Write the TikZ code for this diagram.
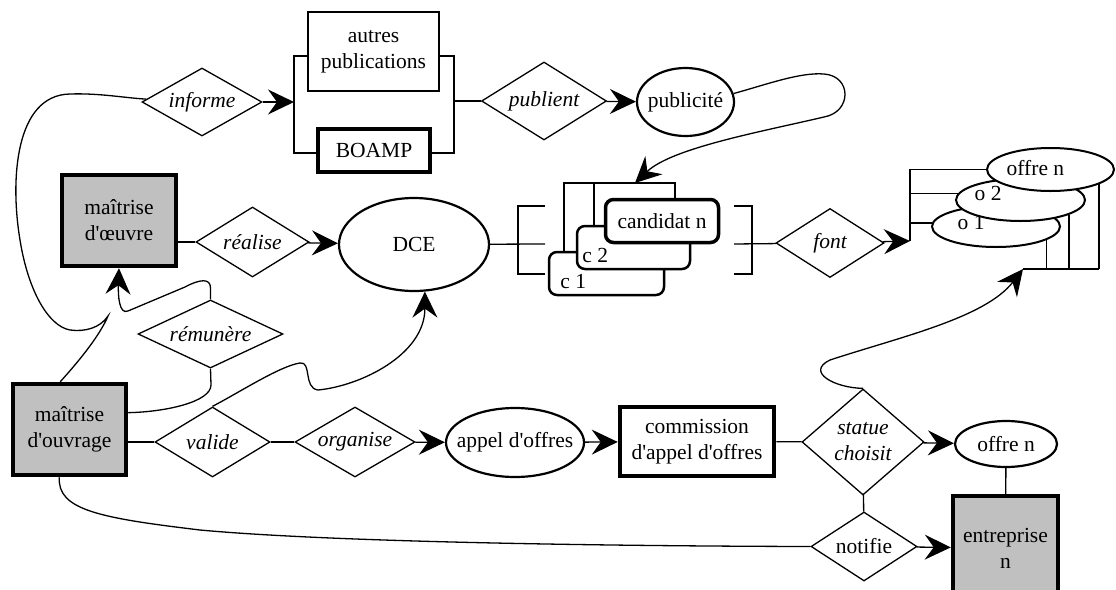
\documentclass[tikz,border=0pt]{standalone}
\usepackage{fontspec}
\setmainfont{Liberation Serif}[Ligatures=TeXOff]
\usetikzlibrary{arrows.meta,shapes.geometric}
\definecolor{boxgray}{RGB}{192,192,192}
\newcommand{\zw}[1]{\makebox[0pt]{#1}}
\tikzset{
  ent/.style={draw, rectangle, inner sep=0pt, align=center},
  rel/.style={draw, diamond, inner sep=0pt, line width=1.3pt, font=\itshape},
  ell/.style={draw, ellipse, inner sep=0pt, line width=2.2pt, fill=white},
  card/.style={draw, rectangle, rounded corners=8pt, fill=white, inner sep=0pt},
  arr/.style={-{Stealth[length=26pt,width=25pt,inset=9pt]}},
  lbl/.style={anchor=base west, inner sep=0pt},
  olbl/.style={anchor=west, inner sep=0pt}
}
\begin{document}
\fontsize{21.5}{26}\selectfont
\begin{tikzpicture}[x=1pt, y=-1pt, line width=1.3pt]
\useasboundingbox (0,0) rectangle (1116,589);

% top row
\node[ent, line width=2.5pt, minimum width=131pt, minimum height=79pt] (autres) at (373.5,51.5) {autres\\publications};
\node[ent, line width=4.5pt, minimum width=112pt, minimum height=43pt] (boamp) at (374,150.5) {BOAMP};
\node[rel, minimum width=120pt, minimum height=68pt] (informe) at (202,102) {\zw{informe}};
\node[rel, minimum width=125pt, minimum height=78pt] (publient) at (544,101) {\zw{publient}};
\node[ell, minimum width=97pt, minimum height=68pt] (publicite) at (685.5,102) {\zw{publicité}};

% middle row
\node[ent, fill=boxgray, line width=4.5pt, minimum width=114pt, minimum height=91pt] (moe) at (119,220.5) {maîtrise\\d'œuvre};
\node[rel, minimum width=113pt, minimum height=70pt] (realise) at (252.5,242) {\zw{réalise}};
\node[ell, minimum width=150pt, minimum height=93pt] (dce) at (414,244.5) {\zw{DCE}};
\node[card, line width=2.5pt, minimum width=115pt, minimum height=43pt,
  label={[lbl, xshift=12pt, yshift=8pt]south west:c 1}] (c1) at (606.5,273.5) {};
\node[card, line width=2.5pt, minimum width=113pt, minimum height=43pt,
  label={[lbl, xshift=6pt, yshift=8pt]south west:c 2}] (c2) at (633.5,247.5) {};
\node[card, line width=3.5pt, minimum width=113pt, minimum height=43pt] (cn) at (662,221) {candidat n};
\node[rel, minimum width=108pt, minimum height=69pt] (fontrel) at (830,243) {\zw{font}};
\node[ell, line width=2pt, minimum width=128pt, minimum height=41pt,
  label={[olbl, xshift=26pt, yshift=3.5pt]west:o 1}] (o1) at (996,226.5) {};
\node[ell, line width=2pt, minimum width=129pt, minimum height=42pt,
  label={[olbl, xshift=19pt, yshift=7pt]west:o 2}] (o2) at (1020.5,200) {};
\node[ell, line width=2pt, minimum width=127pt, minimum height=43pt,
  label={[olbl, xshift=20pt, yshift=1.5pt]west:offre n}] (on) at (1050.5,169.5) {};

% bottom row
\node[ent, fill=boxgray, line width=4.5pt, minimum width=113pt, minimum height=91pt] (mo) at (69.5,429.5) {maîtrise\\d'ouvrage};
\node[rel, minimum width=145pt, minimum height=68pt] (remunere) at (210.5,334) {\zw{rémunère}};
\node[rel, minimum width=115pt, minimum height=70pt] (valide) at (212.5,442) {\zw{valide}};
\node[rel, minimum width=120pt, minimum height=70pt] (organise) at (355,442) {\zw{organise}};
\node[ell, minimum width=138pt, minimum height=69pt] (appel) at (515,442.5) {\zw{appel d'offres}};
\node[ent, line width=4.5pt, minimum width=154pt, minimum height=69pt] (cao) at (697,441.5) {commission\\d'appel d'offres};
\node[rel, minimum width=122pt, minimum height=106pt] (statue) at (863,442) {\zw{\begin{tabular}{@{}c@{}}statue\\choisit\end{tabular}}};
\node[ell, minimum width=102pt, minimum height=46pt] (offre) at (1006,444) {\zw{offre n}};
\node[ent, fill=boxgray, line width=4.5pt, minimum width=105pt, minimum height=104pt] (entr) at (1005.5,548) {entreprise\\n};
\node[rel, font=\upshape, minimum width=106pt, minimum height=69pt] (notifie) at (864,546.5) {\zw{notifie}};

% publications brackets
\coordinate (pl) at (294,102);
\coordinate (pltop) at (294,56);
\coordinate (plbot) at (294,153);
\coordinate (pr) at (454,101);
\coordinate (prtop) at (454,56);
\coordinate (prbot) at (454,153);
\draw (autres.west |- pltop) -- (pltop) -- (plbot) -- (boamp.west |- plbot);
\draw (autres.east |- prtop) -- (prtop) -- (prbot) -- (boamp.east |- prbot);
\draw[arr] (informe) -- (pl);
\draw (pr) -- (publient);
\draw[arr] (publient) -- (publicite);

% publicite loop down to the candidates
\coordinate (cbl) at (564,183);
\coordinate (cbm) at (594,183);
\coordinate (cbr) at (675,183);
\coordinate (cin) at (635,183);
\draw[arr] (publicite.10) .. controls (765,85) and (800,72) .. (824,74)
  .. controls (852,76) and (852,112) .. (824,117)
  .. controls (760,132) and (672,148) .. (cin);
\draw (c1.north -| cbl) -- (cbl) -- (cbr) -- (cn.north -| cbr);
\draw (cbm) -- (c2.north -| cbm);

% candidates brackets
\coordinate (kl) at (545,244);
\coordinate (kr) at (734,244);
\draw (545,206) -- (518,206) -- (518,274) -- (545,274);
\draw (734,206) -- (752,206) -- (752,274) -- (734,274);
\draw (dce) -- (kl);
\draw (kr) -- (fontrel);

% offers bracket
\coordinate (om) at (910,241);
\coordinate (ot) at (910,169.5);
\coordinate (ob) at (1023,269);
\draw[arr] (fontrel) -- (om);
\draw (om) -- (ot) -- (on.west);
\draw (om |- o2.174) -- (o2.174);
\draw (om |- o1.177) -- (o1.177);
\foreach \n/\a in {o1/-15, o2/-17, on/-17} % edit here for the right legs
\draw (\n.\a) -- (\n.\a |- ob);
\draw (ob) -- (on.-17 |- ob);
\draw[arr] (statue.north) .. controls (835,388) and (805,372) .. (830,360)
  .. controls (900,337) and (985,318) .. (ob);

% middle and bottom lines
\draw (realise.west -| moe.east) -- (realise);
\draw[arr] (realise) -- (dce);
\draw (valide.west -| mo.east) -- (valide);
\draw (valide) -- (organise);
\draw[arr] (organise) -- (appel);
\draw[arr] (appel) -- (cao);
\draw (cao) -- (statue);
\draw[arr] (statue) -- (offre);
\draw (statue) -- (notifie);
\draw[arr] (notifie) -- (entr);
\draw (offre) -- (entr);

% curves from the maitrise d'ouvrage
\draw (mo.101) .. controls (80,360) and (100,335) .. (108,316)
  .. controls (100,328) and (85,332) .. (70,330)
  .. controls (48,326) and (28,290) .. (20,240)
  .. controls (10,180) and (15,95) .. (70,94)
  .. controls (100,93) and (125,98) .. (informe);
\draw (mo.16) .. controls (165,412) and (211,402) .. (211,385) -- (remunere.south);
\draw[arr] (remunere.north) -- (210.5,288) .. controls (210.5,278) and (200,279) .. (185,287)
  -- (128,311) .. controls (119,315) and (118,295) .. (moe.south);
\draw[arr] (valide.north) .. controls (240,392) and (280,366) .. (300,363)
  .. controls (312,361) and (303,388) .. (318,390)
  .. controls (360,386) and (425,355) .. (dce.-77);
\draw (mo.-102) .. controls (57,510) and (100,518) .. (200,530)
  .. controls (330,542) and (600,546) .. (notifie.west);

\end{tikzpicture}
\end{document}
